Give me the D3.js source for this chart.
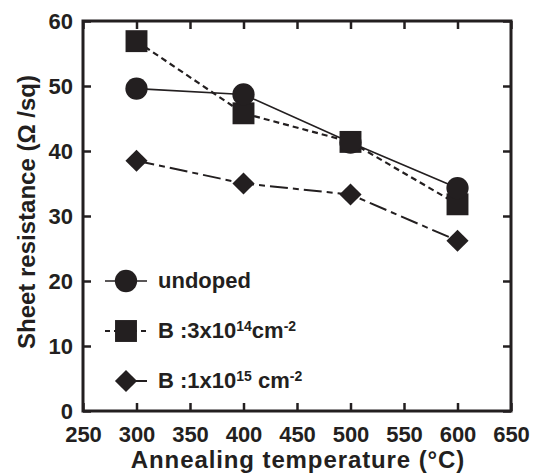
<!DOCTYPE html>
<html>
<head>
<meta charset="utf-8">
<script src="https://cdn.jsdelivr.net/npm/d3@7"></script>
<style>
  body { margin: 0; background: #fff; }
  text { font-family: "Liberation Sans", Arial, sans-serif; font-weight: bold; fill: #231f20; }
</style>
</head>
<body>
<div id="chart"></div>
<script>
// data
var temps = [300, 400, 500, 600];
var undoped = [49.6, 48.7, 41.3, 34.3];
var boron3e14 = [56.9, 45.8, 41.4, 31.8];
var boron1e15 = [38.5, 35.0, 33.3, 26.2];
var xTicks = [250, 300, 350, 400, 450, 500, 550, 600, 650];
var yTicks = [0, 10, 20, 30, 40, 50, 60];

var width = 539, height = 476;
var margin = { top: 21, right: 28, bottom: 65, left: 83 };
var ink = "#231f20";

var svg = d3.select("#chart").append("svg")
    .attr("width", width)
    .attr("height", height);

var x = d3.scaleLinear().domain([250, 650]).range([margin.left, width - margin.right]);
var y = d3.scaleLinear().domain([0, 60]).range([height - margin.bottom, margin.top]);

// axes with inward ticks on all four sides
var tickLen = 8;
function styleAxis(g) {
    g.select(".domain").remove();
    g.selectAll(".tick line").attr("stroke", ink).attr("stroke-width", 2.5);
}
svg.append("g")
    .attr("transform", "translate(0," + y(0) + ")")
    .call(d3.axisBottom(x).tickValues(xTicks).tickSizeInner(-tickLen).tickSizeOuter(0).tickPadding(15))
    .call(styleAxis)
    .selectAll("text").style("font-size", "22px").attr("fill", ink);
svg.append("g")
    .attr("transform", "translate(0," + y(60) + ")")
    .call(d3.axisTop(x).tickValues(xTicks).tickSizeInner(-tickLen).tickSizeOuter(0).tickFormat(""))
    .call(styleAxis);
svg.append("g")
    .attr("transform", "translate(" + x(250) + ",0)")
    .call(d3.axisLeft(y).tickValues(yTicks).tickSizeInner(-tickLen).tickSizeOuter(0).tickPadding(10))
    .call(styleAxis)
    .selectAll("text").style("font-size", "22px").attr("fill", ink);
svg.append("g")
    .attr("transform", "translate(" + x(650) + ",0)")
    .call(d3.axisRight(y).tickValues(yTicks).tickSizeInner(-tickLen).tickSizeOuter(0).tickFormat(""))
    .call(styleAxis);

// frame
svg.append("rect")
    .attr("x", x(250)).attr("y", y(60))
    .attr("width", x(650) - x(250)).attr("height", y(0) - y(60))
    .attr("fill", "none").attr("stroke", ink).attr("stroke-width", 3);

// series (diamond = square turned 45 degrees)
var series = [
    { name: "undoped", values: undoped, dash: null, width: 1.6, shape: d3.symbolCircle, size: 390, rot: 0 },
    { name: "b14", values: boron3e14, dash: "6,4", width: 2.2, shape: d3.symbolSquare, size: 480, rot: 0 },
    { name: "b15", values: boron1e15, dash: "18,5,6,5", width: 2, shape: d3.symbolSquare, size: 245, rot: 45 }
];

var line = d3.line()
    .x(function(d) { return x(d[0]); })
    .y(function(d) { return y(d[1]); });

series.forEach(function(s) {
    var pts = temps.map(function(t, i) { return [t, s.values[i]]; });
    svg.append("path")
        .datum(pts)
        .attr("d", line)
        .attr("fill", "none")
        .attr("stroke", ink)
        .attr("stroke-width", s.width)
        .attr("stroke-dasharray", s.dash);
});
// markers after the lines, circles on top of squares at 600
[series[2], series[1], series[0]].forEach(function(s) {
    svg.selectAll(".m-" + s.name)
        .data(temps.map(function(t, i) { return [t, s.values[i]]; }))
        .enter()
        .append("path")
        .attr("class", "m-" + s.name)
        .attr("transform", function(d) {
            return "translate(" + x(d[0]) + "," + y(d[1]) + ") rotate(" + s.rot + ")";
        })
        .attr("d", d3.symbol().type(s.shape).size(s.size))
        .attr("fill", ink);
});

// legend
var legendRows = [
    { s: series[0], y: 281, x1: 105, dash: null, label: ["undoped"] },
    { s: series[1], y: 331, x1: 105, dash: "5,4", label: ["B :3x10", "14", "cm", "-2"] },
    { s: series[2], y: 381, x1: 120, dash: null, label: ["B :1x10", "15", " cm", "-2"] }
];
legendRows.forEach(function(r) {
    svg.append("line")
        .attr("x1", r.x1).attr("x2", 147)
        .attr("y1", r.y).attr("y2", r.y)
        .attr("stroke", ink)
        .attr("stroke-width", r.s.width)
        .attr("stroke-dasharray", r.dash);
    svg.append("path")
        .attr("transform", "translate(126," + r.y + ") rotate(" + r.s.rot + ")")
        .attr("d", d3.symbol().type(r.s.shape).size(r.s.size))
        .attr("fill", ink);
    var t = svg.append("text")
        .attr("x", 158).attr("y", r.y + 7)
        .style("font-size", "22px");
    r.label.forEach(function(part, i) {
        var ts = t.append("tspan").text(part);
        if (i % 2 === 1) {
            ts.style("font-size", "14px").attr("dy", -7);
        } else if (i > 0) {
            ts.attr("dy", 7);
        }
    });
});

// axis titles
svg.append("text")
    .attr("x", 298)
    .attr("y", 468)
    .attr("text-anchor", "middle")
    .style("font-size", "24px")
    .style("letter-spacing", "0.9px")
    .text("Annealing temperature (°C)");

svg.append("text")
    .attr("transform", "rotate(-90)")
    .attr("x", -212)
    .attr("y", 35)
    .attr("text-anchor", "middle")
    .style("font-size", "24px")
    .text("Sheet resistance (Ω /sq)");
</script>
</body>
</html>
